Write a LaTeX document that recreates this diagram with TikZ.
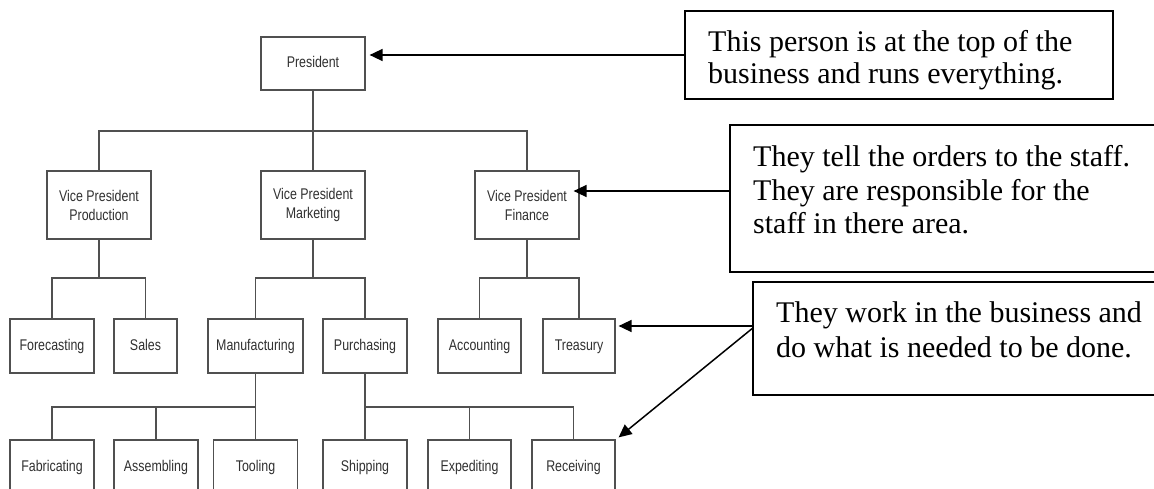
\documentclass[tikz,border=0pt]{standalone}
\usepackage{fontspec}
\setmainfont{Liberation Serif}
\newfontfamily\orgfont{Liberation Sans}[FakeStretch=0.8]
\usetikzlibrary{arrows.meta}
\definecolor{boxgray}{HTML}{505050}
\definecolor{txtgray}{HTML}{303030}
\begin{document}
\begin{tikzpicture}[x=1pt,y=-1pt,
  org/.style={draw=boxgray, line width=1.2pt, inner sep=0pt, align=center,
    font=\orgfont\fontsize{15.5}{19}\selectfont, text=txtgray},
  lvone/.style={org, text height=11.5pt, text depth=3.5pt},
  lvtwo/.style={org, minimum width=104pt, minimum height=68pt},
  lvthree/.style={lvone, minimum height=54pt},
  link/.style={draw=boxgray, line width=1.2pt},
  callout/.style={draw=black, line width=1.6pt, inner sep=0pt},
  note/.style={anchor=north west, inner sep=0pt, align=left,
    font=\fontsize{30}{32}\selectfont},
  arr/.style={draw=black, line width=1.5pt, -{Triangle[length=13pt,width=12pt]}}]
\useasboundingbox (0,0) rectangle (1154,489);
\clip (0,0) rectangle (1154,489);
% org chart
\node[lvone, minimum width=104pt, minimum height=53pt] (pres) at (313,63.5) {President};
\node[lvtwo] (vpp) at (99,205) {Vice President\\Production};
\node[lvtwo] (vpm) at (313,205) {Vice President\\Marketing};
\node[lvtwo] (vpf) at (527,205) {Vice President\\Finance};
\node[lvthree, minimum width=84pt] (fore) at (52,346) {Forecasting};
\node[lvthree, minimum width=63pt] (sales) at (145.5,346) {Sales};
\node[lvthree, minimum width=95pt] (manu) at (255.5,346) {Manufacturing};
\node[lvthree, minimum width=84pt] (purch) at (365,346) {Purchasing};
\node[lvthree, minimum width=83pt] (acct) at (479.5,346) {Accounting};
\node[lvthree, minimum width=72pt] (treas) at (579,346) {Treasury};
\node[lvthree, minimum width=84pt] (fab) at (52,467) {Fabricating};
\node[lvthree, minimum width=84pt] (asm) at (156,467) {Assembling};
\node[lvthree, minimum width=84pt] (tool) at (255.5,467) {Tooling};
\node[lvthree, minimum width=84pt] (ship) at (365,467) {Shipping};
\node[lvthree, minimum width=83pt] (exp) at (469.5,467) {Expediting};
\node[lvthree, minimum width=83pt] (rec) at (573.5,467) {Receiving};
\coordinate (b1) at (0,131);
\coordinate (b2) at (0,278);
\coordinate (b3) at (0,407);
\draw[link] (pres.south) -- (vpm.north);
\draw[link] (vpp.north) -- (vpp.north |- b1) -- (vpf.north |- b1) -- (vpf.north);
\draw[link] (vpp.south) -- (vpp.south |- b2);
\draw[link] (fore.north) -- (fore.north |- b2) -- (sales.north |- b2) -- (sales.north);
\draw[link] (vpm.south) -- (vpm.south |- b2);
\draw[link] (manu.north) -- (manu.north |- b2) -- (purch.north |- b2) -- (purch.north);
\draw[link] (vpf.south) -- (vpf.south |- b2);
\draw[link] (acct.north) -- (acct.north |- b2) -- (treas.north |- b2) -- (treas.north);
\draw[link] (manu.south) -- (manu.south |- b3);
\draw[link] (fab.north) -- (fab.north |- b3) -- (tool.north |- b3) -- (tool.north);
\draw[link] (asm.north) -- (asm.north |- b3);
\draw[link] (purch.south) -- (purch.south |- b3);
\draw[link] (ship.north) -- (ship.north |- b3) -- (rec.north |- b3) -- (rec.north);
\draw[link] (exp.north) -- (exp.north |- b3);
% callouts
\node[callout, minimum width=428pt, minimum height=88pt] (c1) at (899,55) {};
\node[callout, minimum width=432pt, minimum height=147pt] (c2) at (946,198.5) {};
\node[callout, minimum width=410pt, minimum height=113pt] (c3) at (958,338.5) {};
\node[note] (t1) at (708,30.5) {This person is at the top of the\\business and runs everything.};
\node[note, font=\fontsize{30}{33.5}\selectfont] (t2) at (753,145.5) {They tell the orders to the staff.\\They are responsible for the\\staff in there area.};
\node[note, font=\fontsize{30}{35}\selectfont] (t3) at (776,301.5) {They work in the business and\\do what is needed to be done.};
% arrows
\draw[arr, shorten >=4pt] (c1.west) -- (c1.west -| pres.east);
\draw[arr, shorten >=-6pt] ([yshift=7.5pt]c2.west) -- ([yshift=7.5pt]c2.west -| vpf.east);
\draw[arr, shorten >=3pt] ([yshift=12.5pt]c3.west) -- ([yshift=12.5pt]c3.west -| treas.east);
\draw[arr] ([yshift=10pt]c3.west) -- ([xshift=3pt,yshift=2pt]rec.north east);
\end{tikzpicture}
\end{document}
